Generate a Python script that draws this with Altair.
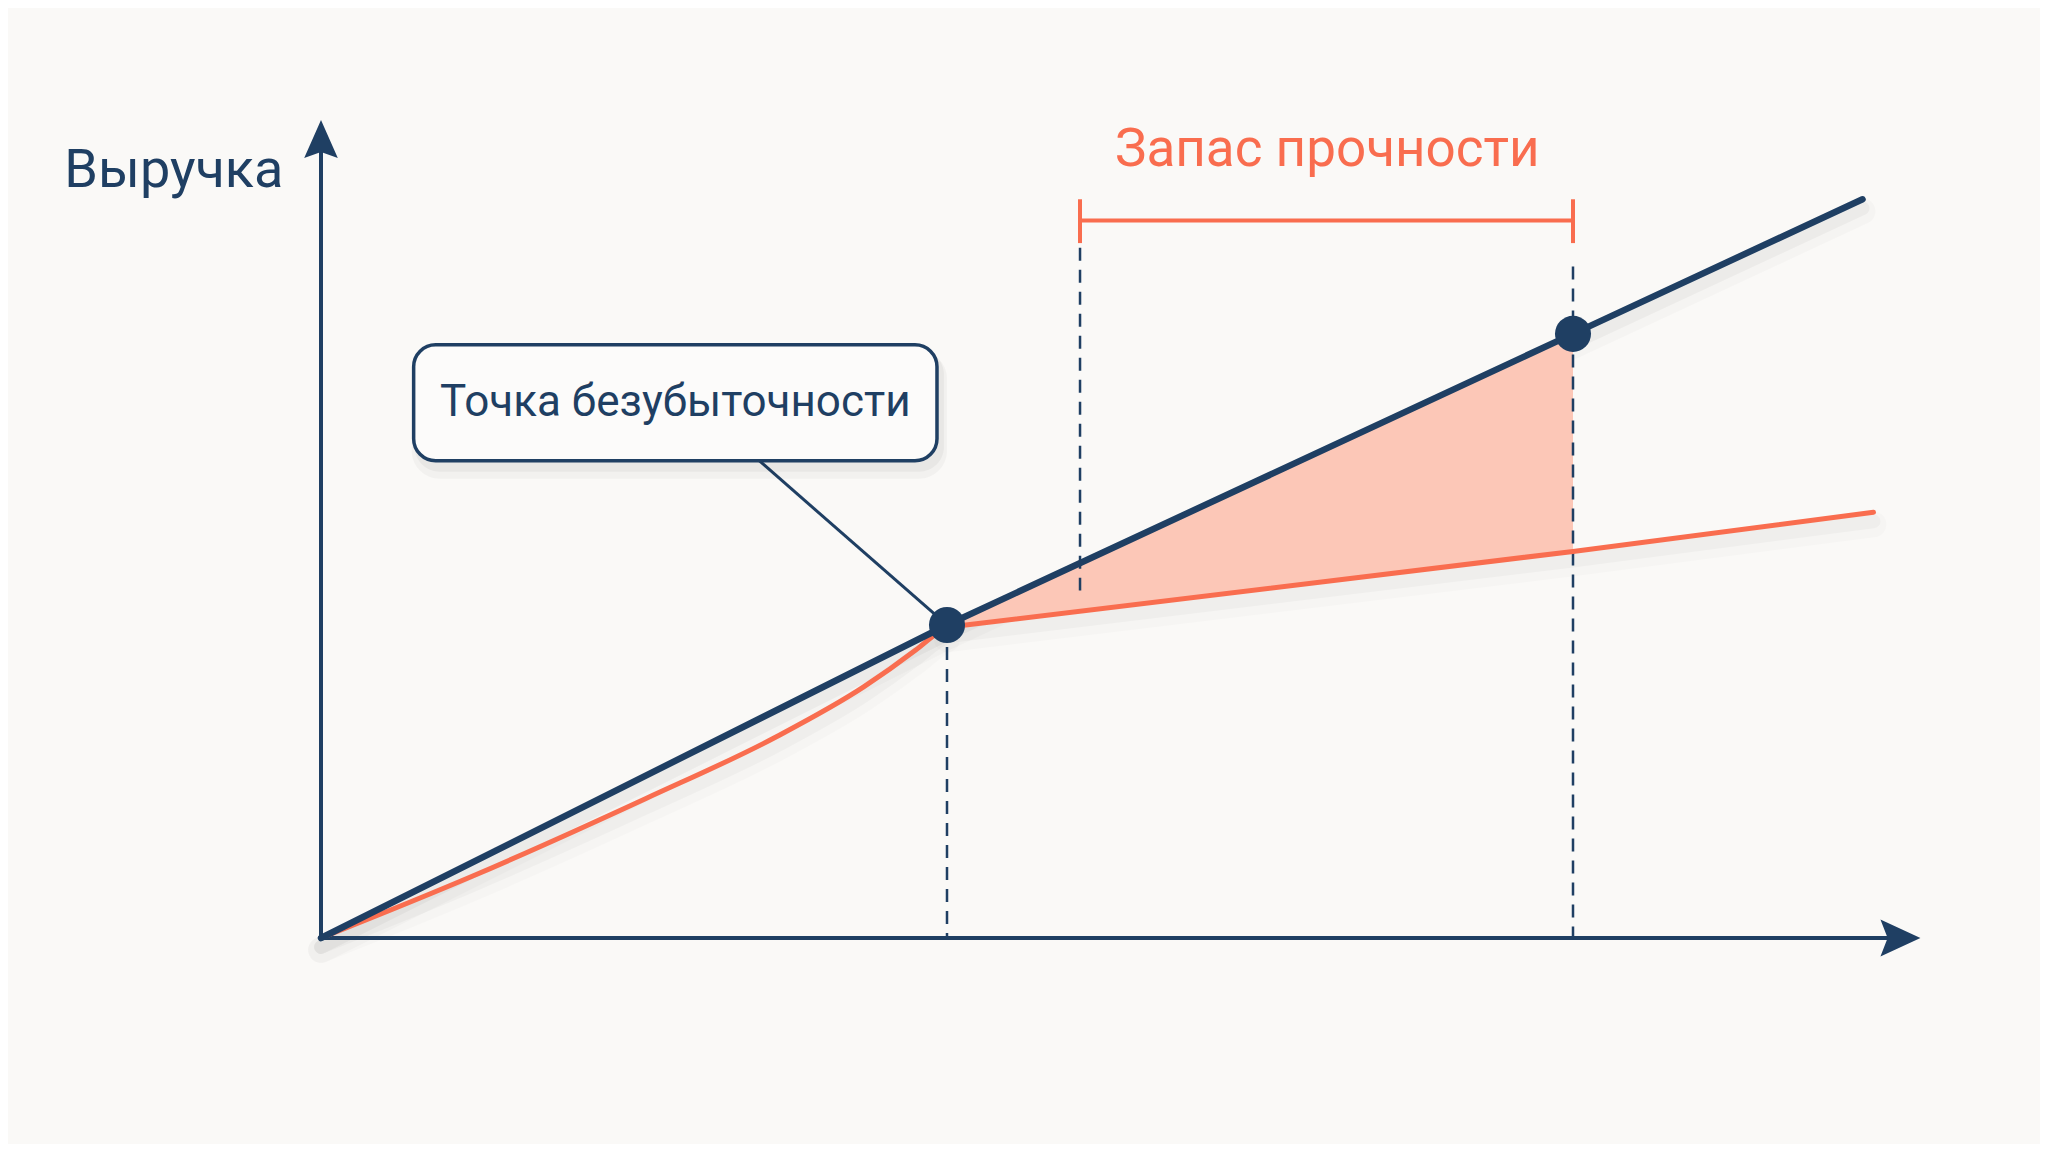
import altair as alt
import pandas as pd

NAVY = "#1F3F63"
ORANGE = "#F96D4F"
FILL = "#FCC7B7"
BG = "#FAF9F7"
FONT = "Roboto"

# ---- data (volume on x, money on y) ----
rev_x = [0, 40, 80, 98.5]
rev_y = [0, 20, 38.6, 47.2]

# cost curve below break-even (curved) and above it (straight)
cost_curve_x = [0, 9.7, 20.8, 29.1, 34.7, 38.0, 39.4, 40]
cost_curve_y = [0, 3.96, 8.93, 12.86, 16.06, 18.4, 19.5, 19.85]
cost_line_x = [40, 80, 99.2]
cost_line_y = [19.85, 24.7, 27.2]

margin_x = [40, 80]
margin_top = [20, 38.6]
margin_bottom = [19.85, 24.7]

point_x = [40, 80]
point_y = [20, 38.6]

guide_x = [40, 48.5, 80]
guide_top = [18.6, 44.1, 42.9]
guide_bottom = [0, 22.2, 0]

bracket_x = [48.5, 80]
bracket_y = [45.85]
bracket_tick_lo = [44.4]
bracket_tick_hi = [47.2]

axis_x_end = [100.4]
axis_y_end = [50.3]
arrow_x_tip = [102.2]
arrow_y_tip = [52.27]

box_x = [5.92, 39.36]
box_y = [30.5, 37.9]
box_label = ["Точка безубыточности"]
box_label_pos = [22.64, 34.2]
connector_x = [28.0, 40]
connector_y = [30.5, 20]

y_title = ["Выручка"]
y_title_pos = [-16.4, 48.0]
margin_title = ["Запас прочности"]
margin_title_pos = [64.3, 49.3]

# ---- scales: plot area covers the page ----
xs = alt.Scale(domain=[-20.0, 109.84], nice=False, zero=False)
ys = alt.Scale(domain=[-13.16, 59.42], nice=False, zero=False)


def X(f="x"):
    return alt.X(f"{f}:Q", scale=xs, axis=None)


def Y(f="y"):
    return alt.Y(f"{f}:Q", scale=ys, axis=None)


rev_df = pd.DataFrame({"x": rev_x, "y": rev_y, "o": range(len(rev_x))})
curve_df = pd.DataFrame({"x": cost_curve_x, "y": cost_curve_y, "o": range(len(cost_curve_x))})
cline_df = pd.DataFrame({"x": cost_line_x, "y": cost_line_y, "o": range(len(cost_line_x))})
margin_df = pd.DataFrame({"x": margin_x, "y": margin_top, "y2": margin_bottom})
pts_df = pd.DataFrame({"x": point_x, "y": point_y})
guide_df = pd.DataFrame({"x": guide_x, "y": guide_top, "y2": guide_bottom})
bracket_df = pd.DataFrame({"x": [bracket_x[0]], "x2": [bracket_x[1]], "y": bracket_y})
tick_df = pd.DataFrame({"x": bracket_x, "y": bracket_tick_lo * 2, "y2": bracket_tick_hi * 2})
xaxis_df = pd.DataFrame({"x": [0], "x2": axis_x_end, "y": [0]})
yaxis_df = pd.DataFrame({"x": [0], "y": [0], "y2": axis_y_end})
xarrow_df = pd.DataFrame({"x": arrow_x_tip, "y": [0]})
yarrow_df = pd.DataFrame({"x": [0], "y": arrow_y_tip})
box_df = pd.DataFrame({"x": [box_x[0]], "x2": [box_x[1]], "y": [box_y[0]], "y2": [box_y[1]]})
box_text_df = pd.DataFrame({"x": [box_label_pos[0]], "y": [box_label_pos[1]], "t": box_label})
conn_df = pd.DataFrame({"x": connector_x, "y": connector_y, "o": [0, 1]})
ytitle_df = pd.DataFrame({"x": [y_title_pos[0]], "y": [y_title_pos[1]], "t": y_title})
mtitle_df = pd.DataFrame({"x": [margin_title_pos[0]], "y": [margin_title_pos[1]], "t": margin_title})

layers = []

# soft shadows under lines
for w, op, off in [(26, 0.02, 12), (14, 0.035, 9)]:
    layers.append(alt.Chart(rev_df).mark_line(color="#000000", strokeWidth=w, opacity=op, yOffset=off,
                                              strokeCap="round").encode(x=X(), y=Y(), order="o:Q"))
    layers.append(alt.Chart(curve_df).mark_line(color="#000000", strokeWidth=w, opacity=op * 0.8, yOffset=off,
                                                strokeCap="round", interpolate="monotone").encode(
        x=X(), y=Y(), order="o:Q"))
    layers.append(alt.Chart(cline_df).mark_line(color="#000000", strokeWidth=w, opacity=op * 0.8, yOffset=off,
                                                strokeCap="round").encode(x=X(), y=Y(), order="o:Q"))

# margin of safety area
layers.append(alt.Chart(margin_df).mark_area(color=FILL, opacity=1).encode(x=X(), y=Y(), y2="y2:Q"))

# dashed guides
layers.append(alt.Chart(guide_df).mark_rule(color=NAVY, strokeWidth=2.5, strokeDash=[13, 9]).encode(
    x=X(), y=Y(), y2="y2:Q"))

# axes
layers.append(alt.Chart(xaxis_df).mark_rule(color=NAVY, strokeWidth=4).encode(x=X(), x2="x2:Q", y=Y()))
layers.append(alt.Chart(yaxis_df).mark_rule(color=NAVY, strokeWidth=4).encode(x=X(), y=Y(), y2="y2:Q"))
layers.append(alt.Chart(xarrow_df).mark_point(
    shape="M0,0L-1,-0.46L-0.82,0L-1,0.46Z", size=6400, filled=True, color=NAVY, opacity=1, strokeWidth=0
).encode(x=X(), y=Y()))
layers.append(alt.Chart(yarrow_df).mark_point(
    shape="M0,0L0.42,0.95L0,0.8L-0.42,0.95Z", size=6400, filled=True, color=NAVY, opacity=1, strokeWidth=0
).encode(x=X(), y=Y()))

# bracket
layers.append(alt.Chart(bracket_df).mark_rule(color=ORANGE, strokeWidth=4).encode(x=X(), x2="x2:Q", y=Y()))
layers.append(alt.Chart(tick_df).mark_rule(color=ORANGE, strokeWidth=4).encode(x=X(), y=Y(), y2="y2:Q"))

# cost & revenue lines
layers.append(alt.Chart(curve_df).mark_line(color=ORANGE, strokeWidth=5, strokeCap="round",
                                            strokeJoin="round", interpolate="monotone").encode(
    x=X(), y=Y(), order="o:Q"))
layers.append(alt.Chart(cline_df).mark_line(color=ORANGE, strokeWidth=5, strokeCap="round",
                                            strokeJoin="round").encode(x=X(), y=Y(), order="o:Q"))
layers.append(alt.Chart(rev_df).mark_line(color=NAVY, strokeWidth=6.5, strokeCap="round",
                                          strokeJoin="round").encode(x=X(), y=Y(), order="o:Q"))

# connector
layers.append(alt.Chart(conn_df).mark_line(color=NAVY, strokeWidth=3).encode(x=X(), y=Y(), order="o:Q"))

# callout box with shadow
for off, op, grow in [(12, 0.03, 6), (8, 0.04, 3)]:
    layers.append(alt.Chart(box_df).mark_rect(
        color="#000000", opacity=op, cornerRadius=22 + grow,
        xOffset=4 - grow, x2Offset=4 + grow, yOffset=off + grow, y2Offset=off - grow
    ).encode(x=X(), x2="x2:Q", y=Y(), y2="y2:Q"))
layers.append(alt.Chart(box_df).mark_rect(
    fill="#FCFBFA", stroke=NAVY, strokeWidth=3.5, cornerRadius=22
).encode(x=X(), x2="x2:Q", y=Y(), y2="y2:Q"))
layers.append(alt.Chart(box_text_df).mark_text(
    font=FONT, fontSize=44, color=NAVY, align="center", baseline="middle"
).encode(x=X(), y=Y(), text="t:N"))

# points
layers.append(alt.Chart(pts_df).mark_circle(color=NAVY, size=1300, opacity=1).encode(x=X(), y=Y()))

# titles
layers.append(alt.Chart(ytitle_df).mark_text(
    font=FONT, fontSize=54, color=NAVY, align="left", baseline="alphabetic"
).encode(x=X(), y=Y(), text="t:N"))
layers.append(alt.Chart(mtitle_df).mark_text(
    font=FONT, fontSize=53, color=ORANGE, align="center", baseline="alphabetic"
).encode(x=X(), y=Y(), text="t:N"))

chart = alt.layer(*layers).properties(
    width=2032, height=1136, background=BG, padding=0, autosize=alt.AutoSizeParams(type="none")
).configure_view(stroke=None)

chart.save("out.html", embed_options={"renderer": "svg", "actions": False})
